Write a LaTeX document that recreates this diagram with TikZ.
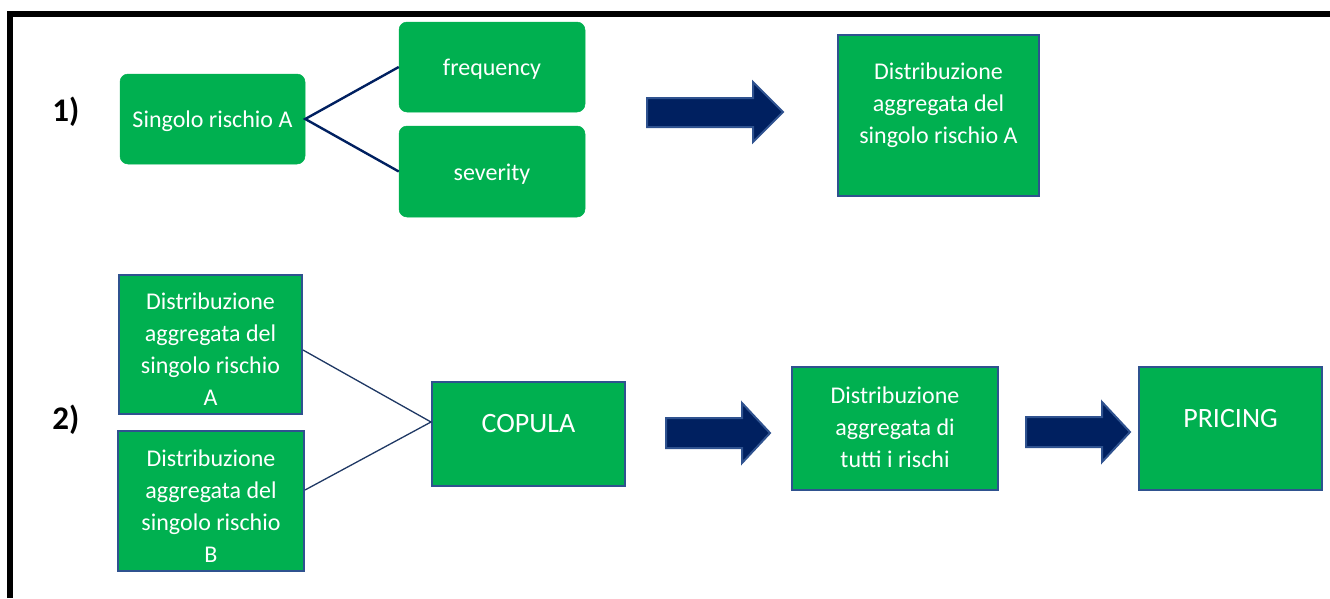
\documentclass[tikz,border=0pt]{standalone}
\usepackage{fontspec}
\setmainfont{Carlito}
\usetikzlibrary{calc}
\definecolor{boxgreen}{HTML}{00B050}
\definecolor{boxedge}{HTML}{2F528F}
\definecolor{navy}{HTML}{002060}
\definecolor{linknavy}{HTML}{1F3864}

\tikzset{
  softbox/.style={rounded corners=8pt, fill=boxgreen, draw=boxgreen, line width=0.5pt, inner sep=0pt},
  edgebox/.style={fill=boxgreen, draw=boxedge, line width=2pt, inner sep=0pt},
  boxtext/.style={text=white, align=center, inner sep=0pt, font=\fontsize{24}{32}\selectfont},
  bigtext/.style={text=white, inner sep=0pt, font=\fontsize{28}{34}\selectfont},
  steplabel/.style={font=\fontsize{33}{38}\selectfont\bfseries, inner sep=0pt},
  link/.style={draw=navy, line width=2.4pt},
  thinlink/.style={draw=linknavy, line width=1.3pt},
  blockarrow/.style={fill=navy, draw=boxedge, line width=2pt, line join=miter},
}

\begin{document}
\begin{tikzpicture}[x=1pt, y=-1pt]
\useasboundingbox (0,0) rectangle (1330,598);

% open frame along the top and left sides
\draw[line width=5.8pt, line join=miter] (10,598) -- (10,13.75) -- (1330,13.75);

% step numbers
\node[steplabel] (s1) at (66,112) {1)};
\node[steplabel] (s2) at (66,420) {2)};

% ---- step 1: single risk split into frequency and severity
\node[softbox, minimum width=185pt, minimum height=90pt] (risk) at (212.5,119) {};
\node[boxtext] at ([yshift=-2pt]risk.center) {Singolo rischio A};
\node[softbox, minimum width=186pt, minimum height=90pt] (freq) at (492,67) {};
\node[boxtext] at ([yshift=-2pt]freq.center) {frequency};
\node[softbox, minimum width=186pt, minimum height=91pt] (sev) at (492,171.5) {};
\node[boxtext] at ([yshift=-3pt]sev.center) {severity};

\draw[link] (freq.west) -- (risk.east) -- (sev.west);

\draw[blockarrow] (647,98) -- (753,98) -- (753,82) -- (783,112) -- (753,142) -- (753,127) -- (647,127) -- cycle;

\node[edgebox, minimum width=201pt, minimum height=161pt] (aggA) at (938.5,115.5) {};
\node[boxtext] at ([yshift=10pt]aggA.center) {Distribuzione\\aggregata del\\singolo rischio A};

% ---- step 2: two marginals joined by a copula
\node[edgebox, minimum width=183pt, minimum height=139pt] (distA) at (210.5,344.5) {};
\node[boxtext] at ([yshift=-5pt]distA.center) {Distribuzione\\aggregata del\\singolo rischio\\A};
\node[edgebox, minimum width=186pt, minimum height=140pt] (distB) at (211,501) {};
\node[boxtext] at ([yshift=-5pt]distB.center) {Distribuzione\\aggregata del\\singolo rischio\\B};

\node[edgebox, minimum width=193pt, minimum height=104pt] (copula) at (528.5,434) {};
\node[bigtext] at ([yshift=10pt]copula.center) {COPULA};

\coordinate (join) at ([yshift=12pt]copula.west);
\draw[thinlink] ([yshift=-5.5pt]distA.east) -- (join) -- ([yshift=11pt]distB.east);

\draw[blockarrow] (666,418) -- (742,418) -- (742,403) -- (770,433) -- (742,463) -- (742,448) -- (666,448) -- cycle;

\node[edgebox, minimum width=206pt, minimum height=123pt] (total) at (895,428.5) {};
\node[boxtext] at ([yshift=1pt]total.center) {Distribuzione\\aggregata di\\tutti i rischi};

\draw[blockarrow] (1026,417) -- (1102,417) -- (1102,402) -- (1130,432) -- (1102,462) -- (1102,447) -- (1026,447) -- cycle;

\node[edgebox, minimum width=183pt, minimum height=123pt] (pricing) at (1230.5,428.5) {};
\node[bigtext] at ([yshift=10pt]pricing.center) {PRICING};
\end{tikzpicture}
\end{document}
